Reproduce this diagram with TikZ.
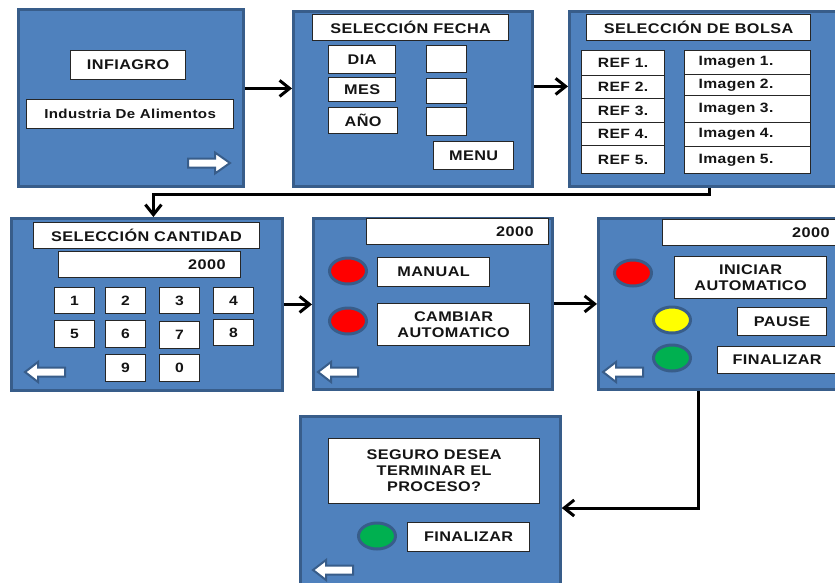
\documentclass[tikz,border=0pt]{standalone}
\usepackage{fontspec}
\setmainfont{Liberation Sans}[FakeStretch=1.16, LetterSpace=3]
\usetikzlibrary{arrows.meta,shapes.geometric}

\definecolor{panelblue}{HTML}{4F81BD}
\definecolor{paneledge}{HTML}{385D8A}
\definecolor{ledred}{HTML}{FF0000}
\definecolor{ledyellow}{HTML}{FFFF00}
\definecolor{ledgreen}{HTML}{00B050}

% rectangle given by its top-left and bottom-right corners
\newcommand\uibox[7][]{%
  \node[#2,anchor=north west,minimum width={#5-#3},minimum height={#6-#4},#1] (#7) at (#3,#4)}

\tikzset{
  panel/.style={draw=paneledge, fill=panelblue, line width=2.8pt, inner sep=0pt},
  wbox/.style={draw=black!85, fill=white, line width=1.2pt, inner sep=0pt,
    align=center, text=black!92, font=\bfseries\fontsize{14}{16}\selectfont},
  smallbox/.style={wbox, font=\bfseries\fontsize{13.5}{15}\selectfont},
  led/.style={ellipse, draw=paneledge, line width=3pt, inner sep=0pt,
    minimum width=37pt, minimum height=26pt},
  conn/.style={draw=black, line width=3pt,
    -{Straight Barb[length=10pt,width=16pt]}},
  icon/.style={fill=white, draw=paneledge, line width=2pt, line join=miter},
  backicon/.pic={\path[icon] (0,0) -- (13,-10) -- (13,-4.5) -- (40,-4.5)
      -- (40,4.5) -- (13,4.5) -- (13,10) -- cycle;},
  fwdicon/.pic={\path[icon] (0,0) -- (-15,-10.5) -- (-15,-4.5) -- (-42,-4.5)
      -- (-42,4.5) -- (-15,4.5) -- (-15,10.5) -- cycle;},
}

\begin{document}
\begin{tikzpicture}[x=1pt, y=-1pt]
\useasboundingbox (0,0) rectangle (835,582);
\clip (0,0) rectangle (835,582);

% ---------- screen 1: start ----------
\uibox{panel}{17}{8}{242}{185}{p1} {};
\uibox{wbox}{70}{50}{185}{79}{infiagro} {INFIAGRO};
\uibox[font=\bfseries\fontsize{13}{15}\selectfont]{wbox}{26}{99}{233}{128}{industria} {Industria De Alimentos};
\pic at (230,163) {fwdicon};

% ---------- screen 2: date ----------
\uibox{panel}{292}{10}{531}{185}{p2} {};
\uibox{wbox}{312}{14}{508}{40}{fecha} {SELECCIÓN FECHA};
\uibox{wbox}{328}{45}{395}{73}{dia} {DIA};
\uibox{wbox}{328}{77}{395}{101}{mes} {MES};
\uibox{wbox}{328}{107}{397}{133}{anio} {AÑO};
\uibox{wbox}{426}{45}{466}{72}{diav} {};
\uibox{wbox}{426}{78}{466}{103}{mesv} {};
\uibox{wbox}{426}{107}{466}{135}{aniov} {};
\uibox{wbox}{433}{141}{513}{169}{menu} {MENU};

% ---------- screen 3: bag ----------
\uibox{panel}{568}{10}{848}{185}{p3} {};
\uibox{wbox}{586}{14}{810}{40}{bolsa} {SELECCIÓN DE BOLSA};
\uibox{smallbox}{581}{50}{664}{75}{ref1} {REF 1.};
\uibox{smallbox}{581}{75}{664}{98}{ref2} {REF 2.};
\uibox{smallbox}{581}{98}{664}{122}{ref3} {REF 3.};
\uibox{smallbox}{581}{122}{664}{145}{ref4} {REF 4.};
\uibox{smallbox}{581}{145}{664}{173}{ref5} {REF 5.};
\tikzset{imgrow/.style={smallbox, text width=98pt, align=left, inner xsep=14pt}}
\uibox{imgrow}{684}{50}{810}{74}{img1} {Imagen 1.};
\uibox{imgrow}{684}{74}{810}{95}{img2} {Imagen 2.};
\uibox{imgrow}{684}{95}{810}{122}{img3} {Imagen 3.};
\uibox{imgrow}{684}{122}{810}{146}{img4} {Imagen 4.};
\uibox{imgrow}{684}{146}{810}{173}{img5} {Imagen 5.};

% ---------- screen 4: quantity ----------
\uibox{panel}{10}{217}{281}{389}{p4} {};
\uibox{wbox}{33}{222}{259}{248}{cantidad} {SELECCIÓN CANTIDAD};
\uibox[text width=152pt, align=right, inner xsep=15pt]{wbox}{58}{251}{240}{277}{qty4} {2000};
\uibox{smallbox}{54}{287}{94}{313}{k1} {1};
\uibox{smallbox}{105}{287}{145}{313}{k2} {2};
\uibox{smallbox}{159}{287}{199}{313}{k3} {3};
\uibox{smallbox}{213}{287}{253}{313}{k4} {4};
\uibox{smallbox}{54}{320}{94}{347}{k5} {5};
\uibox{smallbox}{105}{320}{145}{347}{k6} {6};
\uibox{smallbox}{159}{321}{199}{348}{k7} {7};
\uibox{smallbox}{213}{319}{253}{345}{k8} {8};
\uibox{smallbox}{105}{354}{145}{381}{k9} {9};
\uibox{smallbox}{159}{354}{199}{381}{k0} {0};
\pic at (25,372) {backicon};

% ---------- screen 5: mode ----------
\uibox{panel}{312}{217}{551}{388}{p5} {};
\uibox[text width=152pt, align=right, inner xsep=15pt]{wbox}{366}{218}{548}{244}{qty5} {2000};
\node[led, fill=ledred] (led51) at (348,271) {};
\node[led, fill=ledred] (led52) at (348,321) {};
\uibox{wbox}{377}{257}{489}{286}{manual} {MANUAL};
\uibox{wbox}{377}{303}{529}{345}{cambiar} {CAMBIAR\\AUTOMATICO};
\pic at (318,372) {backicon};

% ---------- screen 6: automatic run ----------
\uibox{panel}{597}{217}{860}{388}{p6} {};
\uibox[text width=152pt, align=right, inner xsep=15pt]{wbox}{662}{219}{844}{245}{qty6} {2000};
\node[led, fill=ledred] (led61) at (633,273) {};
\node[led, fill=ledyellow] (led62) at (672,320) {};
\node[led, fill=ledgreen] (led63) at (672,358) {};
\uibox{wbox}{674}{256}{826}{298}{iniciar} {INICIAR\\AUTOMATICO};
\uibox{wbox}{737}{307}{826}{335}{pause} {PAUSE};
\uibox[text width=113pt, align=left, inner xsep=15pt]{wbox}{717}{346}{860}{373}{fin6} {FINALIZAR};
\pic at (603,372) {backicon};

% ---------- screen 7: confirm end ----------
\uibox{panel}{299}{415}{559}{600}{p7} {};
\uibox{wbox}{328}{438}{539}{503}{pregunta} {SEGURO DESEA\\TERMINAR EL\\PROCESO?};
\node[led, fill=ledgreen] (led71) at (377,536) {};
\uibox{wbox}{407}{522}{529}{551}{fin7} {FINALIZAR};
\pic at (313,570) {backicon};

% ---------- screen flow ----------
\draw[conn] ([yshift=9.5pt]p1.east) -- ([yshift=9.5pt]p1.east -| p2.west);
\draw[conn] ([yshift=12.5pt]p2.east) -- ([yshift=12.5pt]p2.east -| p3.west);
\draw[conn] (p3.south) -- ++(0,7) -| ([xshift=6.5pt]p4.north);
\draw[conn] (p4.east) -- (p4.east -| p5.west);
\draw[conn] (p5.east) -- (p5.east -| p6.west);
\draw[conn] ([xshift=101pt]p6.south west) |- ([yshift=-93pt]p7.north east);
\end{tikzpicture}
\end{document}
